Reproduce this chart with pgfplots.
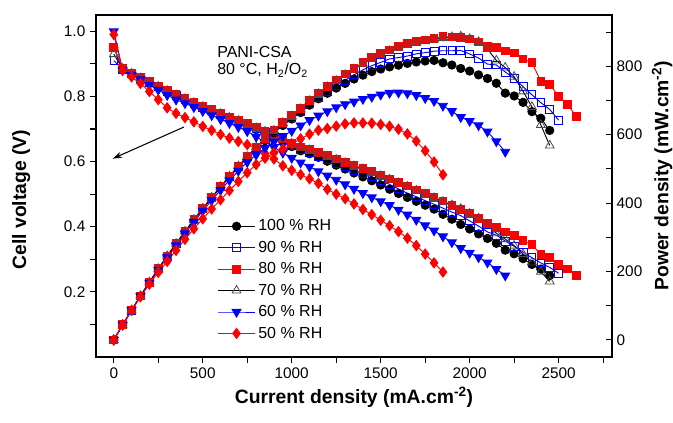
\documentclass[border=0pt]{standalone}
\usepackage{fontspec}
\setmainfont{Liberation Sans}
\usepackage{pgfplots}
\usepackage{pgfplotstable}
\pgfplotsset{compat=1.18}
\usetikzlibrary{arrows.meta}

% columns: current density (mA/cm2), cell voltage (V), power density (mW/cm2)
\pgfplotstableread{
I V P
0 0.95 0
50 0.883 44.2
100 0.868 86.8
150 0.854 128.1
200 0.841 168.2
250 0.828 207
300 0.815 244.5
350 0.802 280.7
400 0.790 316
450 0.778 350.1
500 0.766 383
550 0.754 414.7
600 0.743 445.8
650 0.732 475.8
700 0.721 504.7
750 0.710 532.5
800 0.698 558.4
850 0.686 583.1
900 0.673 605.7
950 0.660 627
1000 0.646 646
1050 0.633 664.7
1100 0.624 686.4
1150 0.613 705
1200 0.601 721.2
1250 0.589 736.3
1300 0.577 750.1
1350 0.565 762.8
1400 0.553 774.2
1450 0.541 784.5
1500 0.528 792
1550 0.515 798.3
1600 0.502 803.2
1650 0.490 808.5
1700 0.478 812.6
1750 0.466 815.5
1800 0.454 817.2
1850 0.438 810.3
1900 0.423 803.7
1950 0.407 793.7
2000 0.393 786
2050 0.378 774.9
2100 0.364 764.4
2150 0.349 750.4
2200 0.328 721.6
2250 0.317 713.3
2300 0.302 694.6
2350 0.284 667.4
2400 0.270 648
2450 0.250 612.5
}\dataA

\pgfplotstableread{
I V P
0 0.91 0
50 0.884 44.2
100 0.869 86.9
150 0.855 128.3
200 0.842 168.4
250 0.829 207.3
300 0.816 244.8
350 0.803 281.1
400 0.791 316.4
450 0.779 350.6
500 0.767 383.5
550 0.756 415.8
600 0.745 447
650 0.734 477.1
700 0.724 506.8
750 0.713 534.8
800 0.702 561.6
850 0.690 586.5
900 0.678 610.2
950 0.665 631.8
1000 0.649 649
1050 0.637 668.9
1100 0.628 690.8
1150 0.617 709.6
1200 0.606 727.2
1250 0.595 743.8
1300 0.584 759.2
1350 0.574 774.9
1400 0.564 789.6
1450 0.553 801.9
1500 0.541 811.5
1550 0.530 821.5
1600 0.516 825.6
1650 0.503 830
1700 0.492 836.4
1750 0.480 840
1800 0.469 844.2
1850 0.457 845.5
1900 0.445 845.5
1950 0.434 846.3
2000 0.418 836
2050 0.402 824.1
2100 0.384 806.4
2150 0.374 804.1
2200 0.356 783.2
2250 0.340 765
2300 0.322 740.6
2350 0.305 716.8
2400 0.289 693.6
2450 0.275 673.8
2500 0.257 642.5
}\dataB

\pgfplotstableread{
I V P
0 0.95 0
50 0.887 44.4
100 0.872 87.2
150 0.858 128.7
200 0.845 169
250 0.832 208
300 0.819 245.7
350 0.806 282.1
400 0.794 317.6
450 0.782 351.9
500 0.770 385
550 0.759 417.5
600 0.748 448.8
650 0.737 479.1
700 0.727 508.9
750 0.716 537
800 0.705 564
850 0.694 589.9
900 0.682 613.8
950 0.670 636.5
1000 0.656 656
1050 0.645 677.3
1100 0.637 700.7
1150 0.627 721.1
1200 0.618 741.6
1250 0.608 760
1300 0.598 777.4
1350 0.588 793.8
1400 0.579 810.6
1450 0.569 825.1
1500 0.558 837
1550 0.547 847.9
1600 0.536 857.6
1650 0.525 866.3
1700 0.513 872.1
1750 0.501 876.8
1800 0.490 882
1850 0.479 886.2
1900 0.466 885.4
1950 0.453 883.4
2000 0.440 880
2050 0.425 871.3
2100 0.409 858.9
2150 0.398 855.7
2200 0.384 844.8
2250 0.373 839.3
2300 0.357 821.1
2350 0.345 810.8
2400 0.315 756
2450 0.305 747.3
2500 0.285 712.5
2550 0.270 688.5
2600 0.251 652.6
}\dataC

\pgfplotstableread{
I V P
0 0.93 0
50 0.885 44.3
100 0.870 87
150 0.856 128.4
200 0.843 168.6
250 0.830 207.5
300 0.817 245.1
350 0.804 281.4
400 0.792 316.8
450 0.780 351
500 0.768 384
550 0.757 416.4
600 0.746 447.6
650 0.735 477.8
700 0.725 507.5
750 0.714 535.5
800 0.703 562.4
850 0.692 588.2
900 0.680 612
950 0.668 634.6
1000 0.654 654
1050 0.643 675.2
1100 0.635 698.5
1150 0.625 718.8
1200 0.616 739.2
1250 0.606 757.5
1300 0.596 774.8
1350 0.586 791.1
1400 0.577 807.8
1450 0.567 822.2
1500 0.556 834
1550 0.545 844.8
1600 0.534 854.4
1650 0.523 863
1700 0.511 868.7
1750 0.499 873.3
1800 0.488 878.4
1850 0.477 882.5
1900 0.466 885.4
1950 0.455 887.3
2000 0.440 880
2050 0.425 871.3
2100 0.405 850.5
2150 0.380 817
2200 0.362 796.4
2250 0.342 769.5
2300 0.316 726.8
2350 0.290 681.5
2400 0.262 628.8
2450 0.232 568.4
}\dataD

\pgfplotstableread{
I V P
0 1.00 0
50 0.880 44
100 0.866 86.6
150 0.852 127.8
200 0.835 167
250 0.820 205
300 0.804 241.2
350 0.790 276.5
400 0.779 311.6
450 0.767 345.2
500 0.755 377.5
550 0.742 408.1
600 0.730 438
650 0.718 466.7
700 0.706 494.2
750 0.693 519.8
800 0.676 540.8
850 0.660 561
900 0.644 579.6
950 0.627 595.7
1000 0.611 611
1050 0.597 626.9
1100 0.584 642.4
1150 0.570 655.5
1200 0.557 668.4
1250 0.544 680
1300 0.530 689
1350 0.516 696.6
1400 0.503 704.2
1450 0.490 710.5
1500 0.478 717
1550 0.466 722.3
1600 0.452 723.2
1650 0.437 721.1
1700 0.421 715.7
1750 0.404 707
1800 0.388 698.4
1850 0.370 684.5
1900 0.352 668.8
1950 0.334 651.3
2000 0.320 640
2050 0.306 627.3
2100 0.290 609
2150 0.270 580.5
2200 0.250 550
}\dataE

\pgfplotstableread{
I V P
0 0.99 0
50 0.880 44
100 0.860 86
150 0.840 126
200 0.815 163
250 0.790 197.5
300 0.765 229.5
350 0.748 261.8
400 0.735 294
450 0.722 324.9
500 0.708 354
550 0.696 382.8
600 0.683 409.8
650 0.672 436.8
700 0.662 463.4
750 0.652 489
800 0.641 512.8
850 0.625 531.3
900 0.608 547.2
950 0.587 557.7
1000 0.573 573
1050 0.560 588
1100 0.547 601.7
1150 0.533 613
1200 0.515 618
1250 0.500 625
1300 0.486 631.8
1350 0.470 634.5
1400 0.453 634.2
1450 0.437 633.7
1500 0.420 630
1550 0.403 624.7
1600 0.385 616
1650 0.365 602.3
1700 0.342 581.4
1750 0.316 553
1800 0.289 520.2
1850 0.261 482.9
}\dataF

\pgfplotsset{
  /pgf/number format/assume math mode=true,
  /pgf/number format/1000 sep={},
  rh100/.style={black, line width=0.7pt, mark=*, mark size=3.1pt, mark options={solid, fill=black}},
  rh90/.style={blue, line width=0.7pt, mark=square, mark size=2.9pt, mark options={solid, fill=white, line width=0.6pt}},
  rh80/.style={red, line width=0.7pt, mark=square*, mark size=2.9pt, mark options={solid, fill=red}},
  rh70/.style={black, line width=0.7pt, mark=triangle, mark size=3.8pt, mark options={solid, fill=white, draw=black!70, line width=0.6pt}},
  rh60/.style={blue, line width=0.7pt, mark=triangle*, mark size=3.8pt, mark options={solid, fill=blue, rotate=180}},
  rh50/.style={red, line width=0.7pt, mark=diamond*, mark size=3.8pt, mark options={solid, fill=red}},
  common/.style={
    width=387pt, height=256.5pt, scale only axis,
    at={(0,0)}, anchor=south west,
    xmin=-100, xmax=2800,
    axis line style={line width=1pt},
    tick style={line width=0.8pt, black},
    major tick length=4.5pt, minor tick length=4.5pt,
    tick label style={font=\fontsize{11.5}{13}\selectfont},
    label style={font=\bfseries\fontsize{14.5}{16}\selectfont},
  },
}

\begin{document}
\begin{tikzpicture}
\useasboundingbox (-72pt,-48.75pt) rectangle (432.75pt,267.75pt);
\begin{axis}[common,
  ymin=0, ymax=1.05,
  xtick={0,500,1000,1500,2000,2500},
  minor xtick={250,750,1250,1750,2250,2750},
  ytick={0.2,0.4,0.6,0.8,1.0},
  minor ytick={0.1,0.3,0.5,0.7,0.9},
  yticklabel style={/pgf/number format/.cd, fixed, fixed zerofill, precision=1},
  xtick pos=bottom, ytick pos=left, tick align=outside,
  xlabel={Current density (mA.cm\textsuperscript{-2})},
  ylabel={Cell voltage (V)},
  xlabel style={at={(axis description cs:0.5,-0.117)}, anchor=center},
  ylabel style={at={(axis description cs:-0.145,0.46)}, anchor=center},
  legend style={draw=none, fill=none, at={(axis description cs:0.227,0.418)},
    anchor=north west, font=\fontsize{12}{14}\selectfont,
    nodes={inner sep=2pt}, row sep=2.2pt},
  legend cell align=left,
  legend image code/.code={\draw[mark repeat=2, mark phase=2] plot coordinates {(0pt,0pt)(14pt,0pt)(28pt,0pt)};},
]
\addplot[rh100] table[x=I, y=V] {\dataA};
\addlegendentry{100 \% RH}
\addplot[rh90] table[x=I, y=V] {\dataB};
\addlegendentry{90 \% RH}
\addplot[rh80] table[x=I, y=V] {\dataC};
\addlegendentry{80 \% RH}
\addplot[rh70] table[x=I, y=V] {\dataD};
\addlegendentry{70 \% RH}
\addplot[rh60] table[x=I, y=V] {\dataE};
\addlegendentry{60 \% RH}
\addplot[rh50] table[x=I, y=V] {\dataF};
\addlegendentry{50 \% RH}
\draw[-{Stealth[length=7pt, width=4.5pt]}, line width=0.8pt] (axis cs:394,0.706) -- (axis cs:-6,0.609);
\node[anchor=west, inner sep=0pt, font=\fontsize{12}{14}\selectfont] at (axis cs:580,0.936) {PANI-CSA};
\node[anchor=west, inner sep=0pt, font=\fontsize{12}{14}\selectfont] at (axis cs:580,0.881) {80 °C, H\textsubscript{2}/O\textsubscript{2}};
\end{axis}
\begin{axis}[common,
  axis x line=none, axis y line*=right,
  ymin=-50, ymax=950,
  ytick={0,200,400,600,800},
  minor ytick={100,300,500,700,900},
  tick align=inside,
  ylabel={Power density (mW.cm\textsuperscript{-2})},
  ylabel style={at={(axis description cs:1.097,0.53)}, anchor=center, rotate=0},
]
\addplot[rh100] table[x=I, y=P] {\dataA};
\addplot[rh90] table[x=I, y=P] {\dataB};
\addplot[rh80] table[x=I, y=P] {\dataC};
\addplot[rh70] table[x=I, y=P] {\dataD};
\addplot[rh60] table[x=I, y=P] {\dataE};
\addplot[rh50] table[x=I, y=P] {\dataF};
\end{axis}
\end{tikzpicture}
\end{document}
